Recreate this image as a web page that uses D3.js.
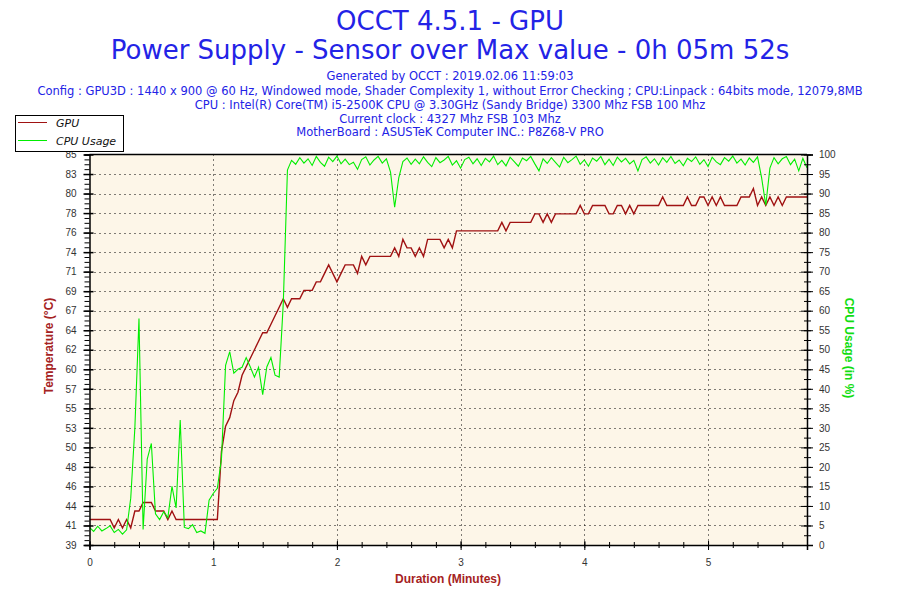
<!DOCTYPE html>
<html>
<head>
<meta charset="utf-8">
<script src="https://cdn.jsdelivr.net/npm/d3@7"></script>
<style>
  html, body { margin: 0; padding: 0; background: #ffffff; }
  svg { display: block; }
</style>
</head>
<body>
<svg id="chart" width="900" height="600"></svg>
<script>
// ---------------- DATA ----------------
const titleLines = ["OCCT 4.5.1 - GPU", "Power Supply - Sensor over Max value - 0h 05m 52s"];
const infoLines = [
  "Generated by OCCT : 2019.02.06 11:59:03",
  "Config : GPU3D : 1440 x 900 @ 60 Hz, Windowed mode, Shader Complexity 1, without Error Checking ; CPU:Linpack : 64bits mode, 12079,8MB",
  "CPU : Intel(R) Core(TM) i5-2500K CPU @ 3.30GHz (Sandy Bridge) 3300 Mhz FSB 100 Mhz",
  "Current clock : 4327 Mhz FSB 103 Mhz",
  "MotherBoard : ASUSTeK Computer INC.: P8Z68-V PRO"
];
const seriesNames = ["GPU", "CPU Usage"];
const sampleSeconds = 2; // one reading every 2 seconds
const durationMinutes = [0, 5.8];
const xTickValues = [0, 1, 2, 3, 4, 5];
const tempDomain = [39, 85];
const tempTickLabels = ["39","41","44","46","48","50","53","55","57","60","62","64","67","69","71","74","76","78","80","83","85"];
const cpuDomain = [0, 100];
const cpuTickValues = [0,5,10,15,20,25,30,35,40,45,50,55,60,65,70,75,80,85,90,95,100];

// GPU temperature (°C), every 2 s from 0 s to 348 s
const gpuTemp = [
  42,42,42,42,42,42,41,42,41,42, 41,43,43,44,44,44,43,43,43,42,
  43,42,42,42,42,42,42,42,42,42, 42,42,50,53,54,56,57,59,60,61,
  62,63,64,64,65,66,67,68,67,68, 68,68,69,69,69,70,70,71,72,71,
  70,71,72,72,72,71,73,72,73,73, 73,73,73,73,74,73,75,74,74,73,
  74,73,75,75,75,75,74,75,74,76, 76,76,76,76,76,76,76,76,76,76,
  77,76,77,77,77,77,77,77,78,78, 77,78,77,78,78,78,78,78,78,79,
  78,78,79,79,79,79,78,78,79,79, 78,79,78,79,79,79,79,79,79,80,
  79,79,79,79,79,80,79,79,80,80, 79,80,79,80,79,79,79,79,80,80,
  80,81,79,80,79,80,79,80,79,80, 80,80,80,80,80
];
// CPU usage (%), every 2 s from 0 s to 348 s
const cpuUsage = [
  4.5,3.5,4.8,3.6,4.2,4.9,3.2,4.0,2.8,3.9, 12,30,58,4,22,26,8,6.5,8.5,7,
  15,9.5,32,4.5,4.2,5.2,3.2,3.6,3.0,11.5, 13.2,14.5,22,46,49.5,44,45,45.5,48,45.6,
  43,45.5,38.5,45.6,48,43.5,43,62,96,98.5, 97.5,99.2,97.8,98.9,97.2,99.5,98.0,97.0,99.3,98.2,
  99.6,97.6,98.8,97.4,98.0,96.2,98.7,99.4,97.3,98.6, 99.5,97.8,98.9,95.5,86.5,94,98.2,99.1,97.5,98.8,
  97.6,99.4,98.0,96.9,99.2,97.9,98.6,99.5,97.3,98.4, 96.5,98.7,99.3,97.6,98.9,97.2,99.0,98.1,99.6,97.4,
  98.5,97.1,99.3,98.2,97.0,99.1,98.4,99.5,97.6,95.8, 98.9,97.7,99.2,98.0,96.8,99.3,97.9,98.7,99.6,97.5,
  98.6,97.0,99.1,98.3,99.5,97.4,98.8,97.2,99.3,98.1, 99.0,97.6,98.5,95.8,98.7,99.4,97.8,98.9,97.3,99.2,
  98.0,99.5,97.7,98.6,97.1,99.0,98.2,99.4,97.5,98.7, 96.9,99.3,98.1,97.4,99.2,98.3,99.6,97.8,98.8,97.3,
  99.1,98.0,99.4,94,87,96.5,99.2,97.6,98.9,99.5, 97.4,98.8,95.8,99.0,96.6
];

// ---------------- LAYOUT ----------------
const svg = d3.select("#chart");
const plot = { left: 89.5, right: 807, top: 154.5, bottom: 545 };
const blue = "#2323e6";
const gpuColor = "#a01212";
const cpuColor = "#00ee00";
const labelRed = "#a52222";
const labelGreen = "#11dd11";

const x = d3.scaleLinear().domain(durationMinutes).range([plot.left, plot.right]);
const yT = d3.scaleLinear().domain(tempDomain).range([plot.bottom, plot.top]);
const yC = d3.scaleLinear().domain(cpuDomain).range([plot.bottom, plot.top]);

// titles
svg.append("text").attr("x", 450).attr("y", 30).attr("text-anchor", "middle")
  .attr("font-family", "DejaVu Sans, Verdana, sans-serif").attr("font-size", 26)
  .attr("fill", blue).text(titleLines[0]);
svg.append("text").attr("x", 450).attr("y", 59).attr("text-anchor", "middle")
  .attr("font-family", "DejaVu Sans, Verdana, sans-serif").attr("font-size", 26)
  .attr("fill", blue).text(titleLines[1]);
const infoY = [80, 94.5, 108.5, 122.5, 136];
infoLines.forEach((t, i) => {
  svg.append("text").attr("x", 450).attr("y", infoY[i]).attr("text-anchor", "middle")
    .attr("font-family", "DejaVu Sans, Verdana, sans-serif").attr("font-size", 11.5)
    .attr("fill", blue).text(t);
});

// plot background
svg.append("rect").attr("x", plot.left).attr("y", plot.top)
  .attr("width", plot.right - plot.left).attr("height", plot.bottom - plot.top)
  .attr("fill", "#fdf6e8");

// grid
const tempStep = (tempDomain[1] - tempDomain[0]) / (tempTickLabels.length - 1);
const tempTickValues = tempTickLabels.map((_, i) => tempDomain[0] + i * tempStep);
const grid = svg.append("g").attr("stroke", "#000").attr("stroke-width", 1)
  .attr("stroke-dasharray", "1,4");
tempTickValues.slice(1, -1).forEach(v => {
  grid.append("line").attr("x1", plot.left).attr("x2", plot.right)
    .attr("y1", Math.round(yT(v)) + 0.5).attr("y2", Math.round(yT(v)) + 0.5);
});
xTickValues.slice(1).forEach(v => {
  grid.append("line").attr("y1", plot.top).attr("y2", plot.bottom)
    .attr("x1", Math.round(x(v)) + 0.5).attr("x2", Math.round(x(v)) + 0.5);
});

// lines
const tOf = i => i * sampleSeconds / 60;
const gpuLine = d3.line().x((d, i) => x(tOf(i))).y(d => yT(d));
const cpuLine = d3.line().x((d, i) => x(tOf(i))).y(d => yC(d));
const clip = svg.append("clipPath").attr("id", "clip").append("rect")
  .attr("x", plot.left).attr("y", plot.top - 1)
  .attr("width", plot.right - plot.left).attr("height", plot.bottom - plot.top + 1);
svg.append("path").datum(gpuTemp).attr("d", gpuLine).attr("fill", "none")
  .attr("stroke", gpuColor).attr("stroke-width", 1.4).attr("clip-path", "url(#clip)");
svg.append("path").datum(cpuUsage).attr("d", cpuLine).attr("fill", "none")
  .attr("stroke", cpuColor).attr("stroke-width", 1.1).attr("clip-path", "url(#clip)");

// top border
svg.append("line").attr("x1", plot.left).attr("x2", plot.right)
  .attr("y1", plot.top).attr("y2", plot.top).attr("stroke", "#000").attr("stroke-width", 1.5);

const tickFont = "Liberation Sans, Arial, sans-serif";
function styleAxis(g) {
  g.select(".domain").attr("stroke", "#000").attr("stroke-width", 1.5);
  g.selectAll(".tick line").attr("stroke", "#000");
  g.selectAll(".tick text").attr("fill", "#333").attr("font-family", tickFont).attr("font-size", 10);
}

// left axis minor ticks
const minorT = d3.range(0, (tempTickLabels.length - 1) * 4 + 1).map(i => tempDomain[0] + i * tempStep / 4);
svg.append("g").attr("transform", `translate(${plot.left},0)`)
  .call(d3.axisLeft(yT).tickValues(minorT).tickSize(5).tickFormat(""))
  .call(g => { g.select(".domain").remove(); g.selectAll("line").attr("stroke", "#000"); });
// left axis major
svg.append("g").attr("transform", `translate(${plot.left},0)`)
  .call(d3.axisLeft(yT).tickValues(tempTickValues).tickSizeOuter(0).tickSize(5).tickPadding(8)
    .tickFormat((d, i) => tempTickLabels[i]))
  .call(styleAxis)
  .call(g => g.selectAll(".tick line").attr("x1", 4).attr("x2", -6).attr("stroke-width", 1.5));

// right axis minor
const minorC = d3.range(0, 41).map(i => i * 2.5);
svg.append("g").attr("transform", `translate(${plot.right},0)`)
  .call(d3.axisRight(yC).tickValues(minorC).tickSize(4).tickFormat(""))
  .call(g => { g.select(".domain").remove(); g.selectAll("line").attr("stroke", "#000").attr("x1", -3); });
// right axis major
svg.append("g").attr("transform", `translate(${plot.right},0)`)
  .call(d3.axisRight(yC).tickValues(cpuTickValues).tickSizeOuter(0).tickSize(6).tickPadding(6))
  .call(styleAxis)
  .call(g => g.selectAll(".tick line").attr("x1", -6).attr("x2", 6));

// bottom axis minor
const minorX = d3.range(0, 30).map(i => i * 0.2).filter(v => v <= durationMinutes[1] + 1e-9);
svg.append("g").attr("transform", `translate(0,${plot.bottom})`)
  .call(d3.axisBottom(x).tickValues(minorX).tickSize(3).tickFormat(""))
  .call(g => { g.select(".domain").remove(); g.selectAll("line").attr("stroke", "#000").attr("y1", -3); });
// bottom axis major
svg.append("g").attr("transform", `translate(0,${plot.bottom})`)
  .call(d3.axisBottom(x).tickValues(xTickValues).tickSizeOuter(0).tickSize(5).tickPadding(9)
    .tickFormat(d3.format("d")))
  .call(styleAxis)
  .call(g => g.selectAll(".tick line").attr("y1", -4).attr("y2", 5));

// axis titles
svg.append("text").attr("transform", `translate(53,346) rotate(-90)`).attr("text-anchor", "middle")
  .attr("font-family", "Liberation Sans, Arial, sans-serif").attr("font-weight", "bold").attr("font-size", 12)
  .attr("fill", labelRed).text("Temperature (°C)");
svg.append("text").attr("transform", `translate(845,348) rotate(90)`).attr("text-anchor", "middle")
  .attr("font-family", "Liberation Sans, Arial, sans-serif").attr("font-weight", "bold").attr("font-size", 12)
  .attr("fill", labelGreen).text("CPU Usage (in %)");
svg.append("text").attr("x", 448).attr("y", 583).attr("text-anchor", "middle")
  .attr("font-family", "Liberation Sans, Arial, sans-serif").attr("font-weight", "bold").attr("font-size", 12)
  .attr("fill", labelRed).text("Duration (Minutes)");

// legend
const leg = svg.append("g");
leg.append("rect").attr("x", 15.5).attr("y", 115.5).attr("width", 108).attr("height", 36)
  .attr("fill", "#fff").attr("stroke", "#000").attr("stroke-width", 1);
const legColors = [gpuColor, cpuColor];
seriesNames.forEach((n, i) => {
  const yy = 122.5 + i * 18;
  leg.append("line").attr("x1", 18).attr("x2", 47).attr("y1", yy).attr("y2", yy)
    .attr("stroke", legColors[i]).attr("stroke-width", 1);
  leg.append("text").attr("x", 56).attr("y", yy + 4).attr("font-family", "DejaVu Sans, Verdana, sans-serif")
    .attr("font-style", "italic").attr("font-size", 11).attr("fill", "#111").text(n);
});
</script>
</body>
</html>
